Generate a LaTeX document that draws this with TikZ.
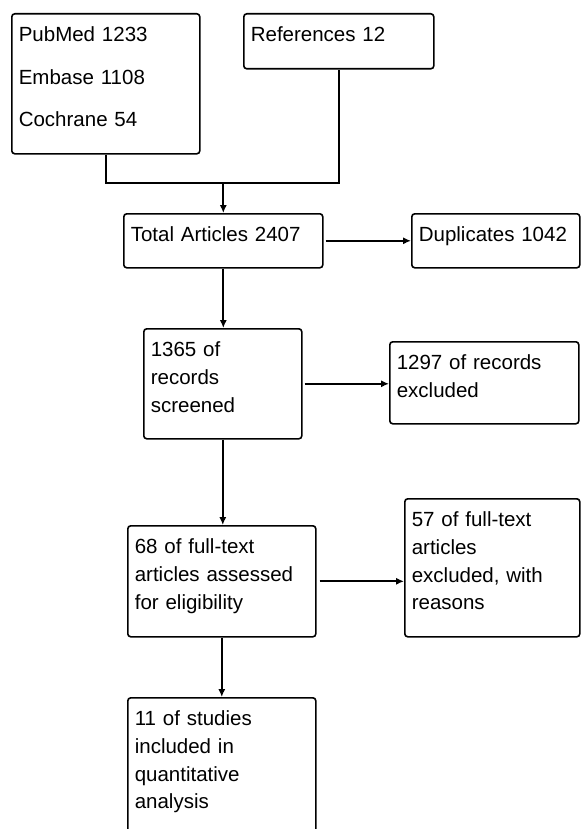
\documentclass[tikz,border=0pt]{standalone}
\usepackage{fontspec}
\setmainfont{Liberation Sans}
\usepackage{tikz}
\usetikzlibrary{arrows.meta, positioning, calc}
\tikzset{
    stage/.style = {draw=black, line width=0.8pt, rounded corners=1.5pt,
        anchor=north west, align=left, inner xsep=3.5pt, inner ysep=0pt,
        text height=14pt, font=\fontsize{10.25pt}{13.85pt}\selectfont},
    link/.style = {draw=black, line width=0.85pt},
    flow/.style = {link, -{Latex[length=4pt,width=3.6pt]}},
}

\begin{document}
\begin{tikzpicture}[x=0.5pt, y=-0.5pt]
        \useasboundingbox (0,0) rectangle (580,829);
        \node (db) [stage, text width=87pt, text depth=56pt] at (11,13)
            {PubMed 1233\\[7.4pt] Embase 1108\\[7.4pt] Cochrane 54};
        \node (ref) [stage, text width=88pt, text depth=13.5pt] at (243,13) {References 12};
        \node (total) [stage, text width=92.5pt, text depth=13pt] at (123,213) {Total Articles 2407};
        \node (dup) [stage, text width=77pt, text depth=13pt] at (411,213) {Duplicates 1042};
        \node (scr) [stage, text width=72pt, text depth=41pt] at (143,328) {1365 of\\ records\\ screened};
        \node (exa) [stage, text width=87.5pt, text depth=27pt] at (389,341) {1297 of records\\ excluded};
        \node (elig) [stage, text width=87pt, text depth=41.5pt] at (127,525)
            {68 of full-text\\ articles assessed\\ for eligibility};
        \node (exb) [stage, text width=80.5pt, text depth=55pt] at (404,498)
            {57 of full-text\\ articles\\ excluded, with\\ reasons};
        \node (incl) [stage, text width=87pt, text depth=55pt] at (127,697)
            {11 of studies\\ included in\\ quantitative\\ analysis};
        \coordinate (join) at (total.north |- 0,183);
        \draw [link] (db.south) |- (join) -| (ref.south);
        \draw [flow] (join) -- (total.north);
        \draw [flow] ([xshift=1pt]total.east) -- (total.east -| dup.west);
        \draw [flow] (total.south) -- (total.south |- scr.north);
        \draw [flow] ([xshift=1pt]scr.east) -- (scr.east -| exa.west);
        \draw [flow] (scr.south) -- (scr.south |- elig.north);
        \draw [flow] ([xshift=1.5pt]elig.east) -- (elig.east -| exb.west);
        \draw [flow] (elig.south) -- (elig.south |- incl.north);
\end{tikzpicture}
\end{document}
